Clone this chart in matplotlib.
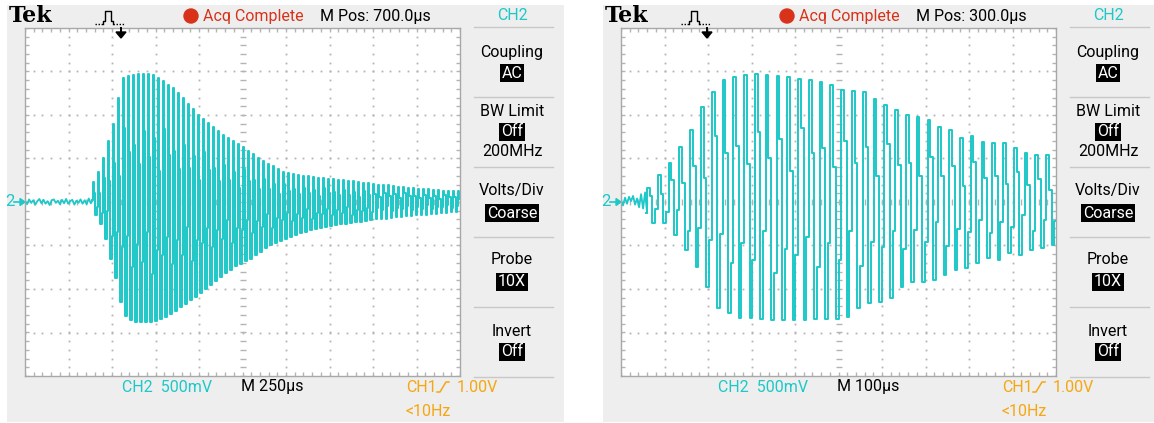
import matplotlib
matplotlib.use("Agg")
import matplotlib.pyplot as plt
from matplotlib.patches import Rectangle, Circle, Polygon
import numpy as np

W, H = 1154, 423

TRACE = "#1dc8c8"
ORANGE = "#f5a712"
RED = "#d8321a"
PANEL = "#eeeeee"
GRIDC = "#b4b4b4"
NARROW = ["Roboto", "DejaVu Sans"]
FS = 11.5

# ---- screen data (divisions: 10 across, 8 high, 0 = centre line) ----
left_header = ["Acq Complete", "M Pos: 700.0µs"]
right_header = ["Acq Complete", "M Pos: 300.0µs"]
left_timebase = "M 250µs"
right_timebase = "M 100µs"
menu_titles = ["Coupling", "BW Limit", "Volts/Div", "Probe", "Invert"]
menu_values = ["AC", "Off", "Coarse", "10X", "Off"]

# left: 250us/div, burst starts ~1.56 div
left_noise = [0.03, -0.05, 0.06, -0.02, 0.04, -0.06, 0.02, 0.07, -0.03, 0.05,
              -0.04, 0.02, -0.07, 0.04, 0.06, -0.02, 0.03, -0.05, 0.05, -0.03,
              0.07, -0.04, 0.02, 0.05, -0.06, 0.03, -0.02, 0.06, -0.04, 0.04,
              -0.05, 0.08, -0.03, 0.05]
left_start, left_period = 1.56, 0.115
left_tops = [0.45, 0.7, 1.0, 1.4, 1.8, 2.4, 2.85, 2.9, 2.92, 2.94, 2.95, 2.94,
             2.93, 2.85, 2.78, 2.7, 2.62, 2.5, 2.38, 2.26, 2.13, 2.0, 1.9, 1.82,
             1.72, 1.63, 1.55, 1.47, 1.4, 1.33, 1.26, 1.18, 1.1, 1.02, 0.95, 0.88,
             0.82, 0.76, 0.7, 0.66, 0.64, 0.62, 0.6, 0.59, 0.57, 0.56, 0.55, 0.53,
             0.52, 0.51, 0.5, 0.49, 0.48, 0.46, 0.44, 0.43, 0.42, 0.4, 0.39, 0.38,
             0.37, 0.35, 0.34, 0.33, 0.32, 0.31, 0.3, 0.29, 0.28, 0.27, 0.26, 0.26,
             0.25, 0.25]
left_bots = [-0.3, -0.5, -0.85, -1.3, -1.75, -2.3, -2.62, -2.72, -2.76, -2.76,
             -2.76, -2.75, -2.74, -2.7, -2.65, -2.58, -2.5, -2.42, -2.34, -2.26,
             -2.18, -2.1, -2.0, -1.9, -1.82, -1.72, -1.64, -1.56, -1.48, -1.42,
             -1.36, -1.3, -1.22, -1.14, -1.06, -1.0, -0.94, -0.9, -0.86, -0.8,
             -0.76, -0.72, -0.68, -0.65, -0.62, -0.6, -0.57, -0.55, -0.53, -0.51,
             -0.5, -0.48, -0.46, -0.45, -0.43, -0.42, -0.4, -0.39, -0.38, -0.36,
             -0.35, -0.34, -0.33, -0.32, -0.31, -0.3, -0.29, -0.28, -0.27, -0.26,
             -0.25, -0.24, -0.24, -0.23]

# right: 100us/div, burst starts ~0.6 div
right_noise = [0.05, -0.08, 0.1, -0.04, 0.12, 0.02, 0.14, -0.06, 0.08, -0.12,
               0.18, -0.15, 0.22, -0.25]
right_start, right_period = 0.6, 0.248
right_tops = [0.32, 0.62, 0.9, 1.26, 1.66, 2.18, 2.53, 2.8, 2.87, 2.92, 2.94,
              2.92, 2.9, 2.88, 2.83, 2.8, 2.76, 2.68, 2.57, 2.55, 2.53, 2.37,
              2.23, 2.11, 2.0, 1.96, 1.88, 1.73, 1.66, 1.47, 1.52, 1.38, 1.35,
              1.35, 1.24, 1.12, 1.08, 1.08, 0.97]
right_bots = [-0.48, -0.48, -0.76, -1.1, -1.49, -1.95, -2.44, -2.55, -2.67,
              -2.67, -2.7, -2.72, -2.72, -2.72, -2.72, -2.7, -2.7, -2.68, -2.64,
              -2.44, -2.32, -2.3, -2.2, -1.95, -1.84, -1.85, -1.8, -1.68, -1.56,
              -1.52, -1.4, -1.29, -1.33, -1.17, -1.22, -1.1, -1.06, -0.99, -0.95]

# fraction of the peak held on the in-between samples of each cycle
mid_levels = [0.45, 0.3, 0.55, 0.35, 0.5, 0.25, 0.6, 0.4]


def burst(start, period, tops, bots):
    t, v = [], []
    n = len(mid_levels)
    for i, (hi, lo) in enumerate(zip(tops, bots)):
        t0 = start + i * period
        a = mid_levels[i % n]
        b = mid_levels[(i + 3) % n]
        t += [t0, t0 + period / 4, t0 + period / 2, t0 + 3 * period / 4]
        v += [hi, hi * a, lo, lo * b]
    t.append(start + len(tops) * period)
    v.append(tops[-1])
    return np.array(t), np.array(v)


fig = plt.figure(figsize=(W / 100, H / 100), dpi=100)
fig.patch.set_facecolor("white")

# pixel-space overlay for panels and labels
bg = fig.add_axes([0, 0, 1, 1])
bg.set_xlim(0, W)
bg.set_ylim(H, 0)
bg.axis("off")


def grid_axes(x0):
    gx, gy, gw, gh = x0 + 18, 28, 435, 348
    ax = fig.add_axes([gx / W, 1 - (gy + gh) / H, gw / W, gh / H])
    ax.set_xlim(0, 10)
    ax.set_ylim(-4, 4)
    ax.set_facecolor("white")
    for s in ax.spines.values():
        s.set_color("#a8a8a8")
        s.set_linewidth(1)
    ax.set_xticks([])
    ax.set_yticks([])
    fine_x = np.arange(0, 10.01, 0.2)
    fine_y = np.arange(-4, 4.01, 0.2)
    for xv in range(1, 10):
        if xv == 5:
            continue
        ax.plot([xv] * len(fine_y), fine_y, ls="none", marker="s", ms=1.3,
                color=GRIDC, mew=0)
    for yv in range(-3, 4):
        if yv == 0:
            continue
        ax.plot(fine_x, [yv] * len(fine_x), ls="none", marker="s", ms=1.3,
                color=GRIDC, mew=0)
    # centre cross with minor dashes
    ax.plot([5] * len(fine_y), fine_y, ls="none", marker="_", ms=5,
            color=GRIDC, mew=1)
    ax.plot(fine_x, [0] * len(fine_x), ls="none", marker="|", ms=5,
            color=GRIDC, mew=1)
    # edge ticks
    for yy in [4, -4]:
        ax.plot(fine_x, [yy] * len(fine_x), ls="none", marker="|", ms=6,
                color=GRIDC, mew=1)
    for xx in [0, 10]:
        ax.plot([xx] * len(fine_y), fine_y, ls="none", marker="_", ms=6,
                color=GRIDC, mew=1)
    return ax


def panel(x0, header, timebase, noise, start, period, tops, bots, lw):
    bg.add_patch(Rectangle((x0, 5), 557, 417, facecolor=PANEL, edgecolor="none"))

    ax = grid_axes(x0)
    nt = np.linspace(0, start, len(noise))
    ax.plot(nt, noise, color=TRACE, lw=1.3)
    t, v = burst(start, period, tops, bots)
    t = np.concatenate([[start - 0.02], t])
    v = np.concatenate([[noise[-1]], v])
    ax.plot(t, v, color=TRACE, lw=lw, drawstyle="steps-post")

    # top bar
    bg.text(x0 + 2, 16, "Tek", fontsize=16, fontweight="bold",
            family="DejaVu Serif", va="center", ha="left")
    bg.add_patch(Circle((x0 + 184, 16), 7, color=RED))
    bg.text(x0 + 196, 16, header[0], color=RED, fontsize=FS, family=NARROW,
            va="center", ha="left")
    bg.text(x0 + 313, 16, header[1], color="black", fontsize=FS,
            family=NARROW, va="center", ha="left")
    mc = x0 + 505
    bg.text(mc, 16, "CH2", color=TRACE, fontsize=FS, family=NARROW,
            va="center", ha="center")

    # side menu
    for yl in [27, 97, 167, 237, 307, 377]:
        bg.plot([x0 + 467, x0 + 546], [yl, yl], color="#c8c8c8", lw=1)
    title_y = [52, 111, 191, 260, 331]
    value_y = [73, 132, 213, 282, 352]
    for tt, vv, ty, vy in zip(menu_titles, menu_values, title_y, value_y):
        bg.text(mc, ty, tt, fontsize=FS, family=NARROW, va="center",
                ha="center")
        bg.text(mc, vy, vv, fontsize=FS, family=NARROW, va="center",
                ha="center", color="white",
                bbox=dict(facecolor="black", edgecolor="none", pad=1.3))
    bg.text(mc, 152, "200MHz", fontsize=FS, family=NARROW, va="center",
            ha="center")

    # channel marker at ground level
    bg.text(x0 - 2, 202, "2", color=TRACE, fontsize=12, family=NARROW,
            va="center", ha="left")
    bg.plot([x0 + 7, x0 + 15], [202, 202], color=TRACE, lw=1.2)
    bg.add_patch(Polygon([[x0 + 13, 198.5], [x0 + 18, 202], [x0 + 13, 205.5]],
                         closed=True, color=TRACE))

    # bottom readouts
    bg.text(x0 + 115, 387, "CH2  500mV", color=TRACE, fontsize=FS,
            family=NARROW, va="center", ha="left")
    bg.text(x0 + 234, 387, timebase, color="black", fontsize=FS,
            family=NARROW, va="center", ha="left")
    bg.text(x0 + 399, 387, "CH1", color=ORANGE, fontsize=FS, family=NARROW,
            va="center", ha="left")
    ex = x0 + 430
    bg.plot([ex, ex + 3, ex + 9, ex + 12], [392, 392, 382, 382], color=ORANGE,
            lw=1.1)
    bg.text(x0 + 450, 387, "1.00V", color=ORANGE, fontsize=FS,
            family=NARROW, va="center", ha="left")
    bg.text(x0 + 399, 411, "<10Hz", color=ORANGE, fontsize=FS,
            family=NARROW, va="center", ha="left")


panel(7, left_header, left_timebase, left_noise, left_start, left_period,
      left_tops, left_bots, 1.4)
panel(603, right_header, right_timebase, right_noise, right_start,
      right_period, right_tops, right_bots, 1.4)

# trigger icon and position arrow sit above the graticule
fg = fig.add_axes([0, 0, 1, 1])
fg.set_xlim(0, W)
fg.set_ylim(H, 0)
fg.axis("off")
fg.patch.set_alpha(0)
for trig in [121, 707]:
    px = trig - 26
    fg.plot([px, px + 8], [24, 24], color="black", lw=1.0, ls=(0, (1, 1.2)))
    fg.plot([px + 8, px + 8, px + 10, px + 10, px + 16, px + 16, px + 18,
             px + 18],
            [24, 21, 21, 11, 11, 21, 21, 24], color="black", lw=1.0)
    fg.plot([px + 18, px + 30], [24, 24], color="black", lw=1.0,
            ls=(0, (1, 1.2)))
    fg.plot([trig, trig], [28, 33], color="black", lw=1.4)
    fg.add_patch(Polygon([[trig - 5, 32], [trig + 5, 32], [trig, 38]],
                         closed=True, color="black"))

fig.savefig("out.png", dpi=100, facecolor="white")
